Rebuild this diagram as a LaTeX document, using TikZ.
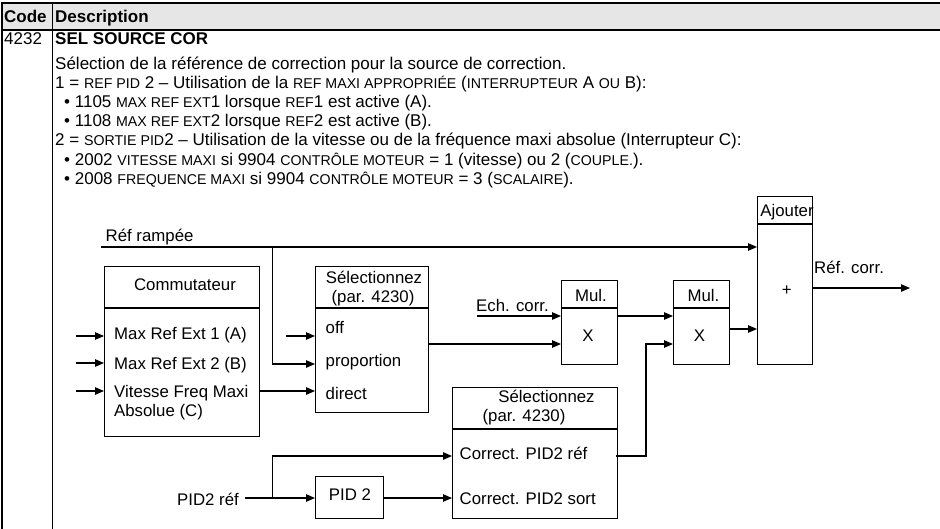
\documentclass[tikz,border=0pt]{standalone}
\usepackage{fontspec}
\setmainfont{Liberation Sans}
\usetikzlibrary{arrows.meta}
\definecolor{hdr}{RGB}{230,230,230}
\newcommand\smc[1]{{\fontsize{14.2}{14}\selectfont #1}}
\begin{document}
\begin{tikzpicture}[x=1pt,y=-1pt,
  box/.style={draw,line width=1.1pt,inner sep=0,anchor=north west},
  arr/.style={line width=1.1pt,-{Triangle[length=9pt,width=7.5pt]}},
  ln/.style={line width=1.1pt},
  tb/.style={font=\fontsize{17}{19}\selectfont,inner sep=0,anchor=base west},
  tbb/.style={font=\bfseries\fontsize{17}{19}\selectfont,inner sep=0,anchor=base west},
  dg/.style={font=\fontsize{16.8}{19}\selectfont,inner sep=0,anchor=base},
  dgl/.style={dg,anchor=base west},
]
\useasboundingbox (0,0) rectangle (940,528);
% table
\fill[hdr] (2,3) rectangle (945,30);
\draw[ln] (945,3) -- (2,3) -- (2,535);
\draw[ln] (2,30) -- (945,30);
\draw[ln] (52.5,3) -- (52.5,535);
\node[tbb] (hcode) at (4,22.5) {Code};
\node[tbb] (hdesc) at (55,22.5) {Description};
\node[tb] (code) at (4,44.5) {4232};
\node[tbb] (title) at (55,44.5) {SEL SOURCE COR};
\node[tb] (l1) at (55,69) {Sélection de la référence de correction pour la source de correction.};
\node[tb] (l2) at (55,88.2) {1 = \smc{REF PID} 2 – Utilisation de la \smc{REF MAXI APPROPRIÉE} (\smc{INTERRUPTEUR} A \smc{OU} B):};
\node[tb] (l3) at (64,107.4) {• 1105 \smc{MAX REF EXT}1 lorsque \smc{REF}1 est active (A).};
\node[tb] (l4) at (64,126.6) {• 1108 \smc{MAX REF EXT}2 lorsque \smc{REF}2 est active (B).};
\node[tb] (l5) at (55,145.8) {2 = \smc{SORTIE PID}2 – Utilisation de la vitesse ou de la fréquence maxi absolue (Interrupteur C):};
\node[tb] (l6) at (64,165) {• 2002 \smc{VITESSE MAXI} si 9904 \smc{CONTRÔLE MOTEUR} = 1 (vitesse) ou 2 (\smc{COUPLE.}).};
\node[tb] (l7) at (64,184.2) {• 2008 \smc{FREQUENCE MAXI} si 9904 \smc{CONTRÔLE MOTEUR} = 3 (\smc{SCALAIRE}).};
% boxes
\node[box,minimum width=155pt,minimum height=170pt] (commut) at (104,266) {};
\draw[ln] (104,308) -- (259,308);
\node[box,minimum width=113pt,minimum height=146pt] (sel1) at (315,266) {};
\draw[ln] (315,308) -- (428,308);
\node[box,minimum width=56pt,minimum height=84pt] (mul1) at (561,280) {};
\draw[ln] (561,308) -- (618,308);
\node[box,minimum width=56pt,minimum height=84pt] (mul2) at (673,280) {};
\draw[ln] (673,308) -- (729,308);
\node[box,minimum width=55pt,minimum height=168pt] (ajout) at (757,196) {};
\draw[ln] (757,224) -- (812,224);
\node[box,minimum width=165pt,minimum height=131pt] (sel2) at (452,387) {};
\draw[ln] (452,429) -- (617,429);
\node[box,minimum width=68pt,minimum height=42pt] (pid) at (315,476) {};
% texts
\node[dgl] (tramp) at (105.5,241) {Réf rampée};
\node[dg] (tcom) at (185,290) {Commutateur};
\node[dgl] (ta) at (114,339.5) {Max Ref Ext 1 (A)};
\node[dgl] (tb) at (114,369) {Max Ref Ext 2 (B)};
\node[dgl] (tc1) at (114,397.5) {Vitesse Freq Maxi};
\node[dgl] (tc2) at (114,416.5) {Absolue (C)};
\node[dg] (ts1a) at (374,283) {Sélectionnez};
\node[dg] (ts1b) at (373,302) {(par. 4230)};
\node[dgl] (toff) at (325.5,333) {off};
\node[dgl] (tprop) at (325.5,366) {proportion};
\node[dgl] (tdir) at (325.5,399.5) {direct};
\node[dg] (tech) at (512.5,311.5) {Ech. corr.};
\node[dg] (tmul1) at (591,301.5) {Mul.};
\node[dg] (tmul2) at (703.5,301.5) {Mul.};
\node[dg] (tx1) at (588,341.5) {X};
\node[dg] (tx2) at (699.5,341.5) {X};
\node[dg] (tajout) at (787,216) {Ajouter};
\node[dg] (tplus) at (786.7,295.5) {+};
\node[dgl] (tcorr) at (814,273.5) {Réf. corr.};
\node[dg] (ts2a) at (546.5,402.5) {Sélectionnez};
\node[dg] (ts2b) at (524,421.5) {(par. 4230)};
\node[dgl] (tcref) at (459.5,459) {Correct. PID2 réf};
\node[dgl] (tcsort) at (459.5,504.5) {Correct. PID2 sort};
\node[dg] (tpid) at (350,500.5) {PID 2};
\node[dg,anchor=base east] (tpidref) at (239,505) {PID2 réf};
% connectors
\coordinate (rampL) at (101,247);
\coordinate (rampB) at (272.5,247);
\coordinate (rampP) at (272.5,364);
\draw[arr] (rampL) -- (rampL -| ajout.west);
\draw[arr] (rampB) -- (rampP) -- (rampP -| sel1.west);
\coordinate (inA) at (76,336);
\coordinate (inB) at (76,363);
\coordinate (inC) at (76,391);
\draw[arr] (inA) -- (inA -| commut.west);
\draw[arr] (inB) -- (inB -| commut.west);
\draw[arr] (inC) -- (inC -| commut.west);
\draw[arr] (inC -| commut.east) -- (inC -| sel1.west);
\coordinate (inoff) at (286,336);
\draw[arr] (inoff) -- (inoff -| sel1.west);
\coordinate (s1o) at (428,344);
\draw[arr] (s1o -| sel1.east) -- (s1o -| mul1.west);
\coordinate (inech) at (477,316);
\draw[arr] (inech) -- (inech -| mul1.west);
\draw[arr] (inech -| mul1.east) -- (inech -| mul2.west);
\coordinate (m2o) at (729,329);
\draw[arr] (m2o -| mul2.east) -- (m2o -| ajout.west);
\coordinate (outE) at (910,288);
\draw[arr] (outE -| ajout.east) -- (outE);
\coordinate (s2o) at (616,456);
\coordinate (s2v) at (646,456);
\coordinate (s2u) at (646,344);
\draw[arr] (s2o) -- (s2v) -- (s2u) -- (s2u -| mul2.west);
\coordinate (pidin) at (245,498);
\draw[arr] (pidin) -- (pidin -| pid.west);
\coordinate (pb) at (272.5,498);
\coordinate (pu) at (272.5,456);
\draw[arr] (pb) -- (pu) -- (pu -| sel2.west);
\draw[arr] (pidin -| pid.east) -- (pidin -| sel2.west);
\end{tikzpicture}
\end{document}
